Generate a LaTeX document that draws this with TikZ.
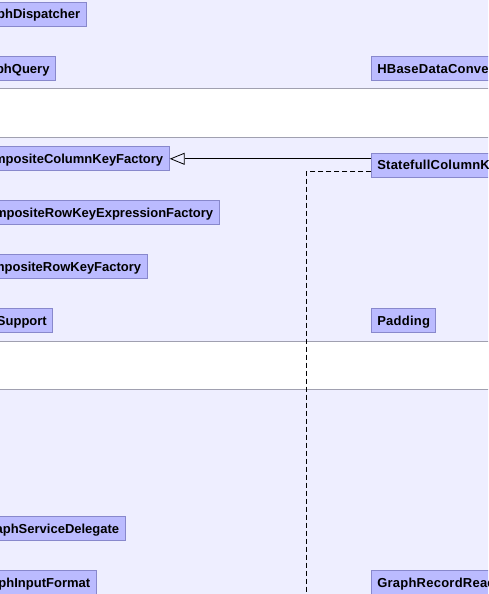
\documentclass[tikz,border=0pt]{standalone}
\usepackage{fontspec}
\setmainfont{Liberation Sans}
\usetikzlibrary{arrows.meta}
\definecolor{pkgbg}{RGB}{238,238,255}
\definecolor{classfill}{RGB}{187,187,255}
\definecolor{classline}{RGB}{136,136,204}
\definecolor{bandline}{RGB}{160,160,176}
\begin{document}
\begin{tikzpicture}[x=1pt,y=-1pt,
  cls/.style={draw=classline,fill=classfill,line width=1pt,
    font=\fontsize{13}{15}\selectfont\bfseries,
    minimum height=24pt,text height=9.5pt,text depth=0pt,
    inner ysep=0pt,inner xsep=6pt},
  wide/.style={font=\fontsize{13}{15}\selectfont\bfseries\addfontfeatures{LetterSpace=1.8},
    inner xsep=5.5pt},
  band/.style={draw=bandline,line width=0.8pt},
  generalization/.style={draw=black,line width=0.8pt,
    -{Triangle[open,length=15pt,width=12pt,line width=0.8pt]}},
  dependency/.style={draw=black,line width=0.8pt,dash pattern=on 5pt off 3pt}]
\useasboundingbox (0,0) rectangle (488,594);
\begin{scope}
\clip (0,0) rectangle (488,594);
% package backgrounds and the white separator bands
\fill[pkgbg] (0,0) rectangle (488,594);
\fill[white] (-2,88.3) rectangle (490,137.3);
\fill[white] (-2,341.3) rectangle (490,389.3);
\draw[band] (-2,88.3) -- (490,88.3);
\draw[band] (-2,137.3) -- (490,137.3);
\draw[band] (-2,341.3) -- (490,341.3);
\draw[band] (-2,389.3) -- (490,389.3);

% classes in the left column
\node[cls,anchor=north east] (gd)   at (86.7,1.7)   {GraphDispatcher};
\node[cls,anchor=north east] (gq)   at (56,56)      {GraphQuery};
\node[cls,anchor=north east] (cckf) at (169.7,146.3){CompositeColumnKeyFactory};
\node[cls,anchor=north east] (crkef)at (219.7,200.3){CompositeRowKeyExpressionFactory};
\node[cls,anchor=north east] (crkf) at (147.7,254.3){CompositeRowKeyFactory};
\node[cls,anchor=north east] (sup)  at (53.3,308.3) {Support};
\node[cls,anchor=north east] (gsd)  at (125.7,516.3){GraphServiceDelegate};
\node[cls,anchor=north east] (gif)  at (96.7,570.3) {GraphInputFormat};

% classes in the right column
\node[cls,wide,anchor=north west] (hdc)  at (371.3,56)   {HBaseDataConverter};
\node[cls,wide,anchor=north west] (sckf) at (371.3,152.7){StatefullColumnKeyFactory};
\node[cls,wide,anchor=north west] (pad)  at (371.3,308.3){Padding};
\node[cls,wide,anchor=north west] (grr)  at (371.3,570.3){GraphRecordReader};

% relations
\draw[generalization] (sckf.west |- cckf.east) -- (cckf.east);
\coordinate (depend) at (306.3,600);
\draw[dependency] ([yshift=6pt]sckf.south west) -| (depend);
\end{scope}
\end{tikzpicture}
\end{document}
